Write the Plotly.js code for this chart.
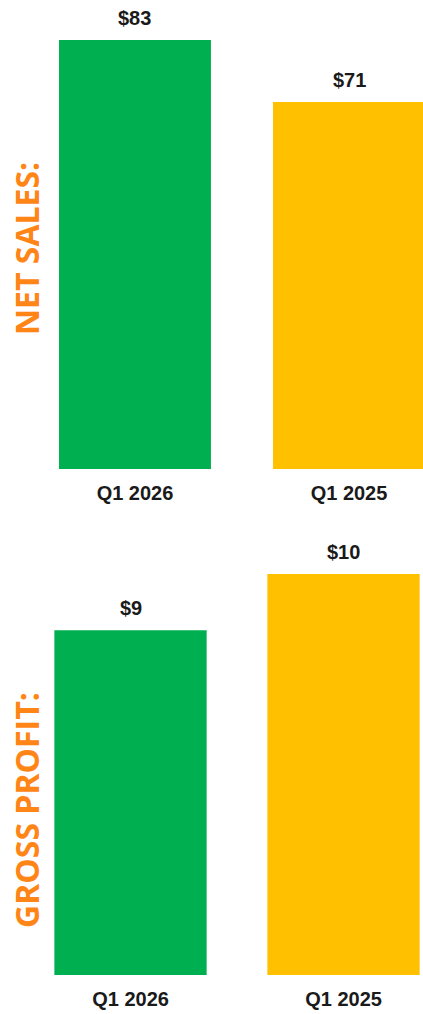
<!DOCTYPE html>
<html>
<head>
<meta charset="utf-8">
<script src="https://cdn.plot.ly/plotly-3.0.1.min.js"></script>
<style>html,body{margin:0;padding:0;background:#fff;}#chart{width:423px;height:1014px;}</style>
</head>
<body>
<div id="chart"></div>
<script>
// Data
const categories = ["Q1 2026", "Q1 2025"];
const netSales = [83, 71];
const grossProfit = [8.6, 10.0];
const barColors = ["#00B050", "#FFC000"];
const panelTitles = ["NET SALES:", "GROSS PROFIT:"];

const W = 423, H = 1014;
const labelFont = {family: "Liberation Sans Narrow, Arial Narrow, Liberation Sans, Arial, sans-serif", size: 20, color: "#1a1a1a"};
const titleFont = {family: "Open Sans, Noto Sans, sans-serif", size: 32, color: "#FF8517"};

const traces = [
  {type: "bar", x: categories, y: netSales, xaxis: "x", yaxis: "y",
   marker: {color: barColors}, width: 0.71, hoverinfo: "skip"},
  {type: "bar", x: categories, y: grossProfit, xaxis: "x2", yaxis: "y2",
   marker: {color: barColors}, width: 0.715, hoverinfo: "skip"}
];

function valueAnnotations(vals, xref, yref) {
  return vals.map((v, i) => ({
    x: categories[i], y: v, xref: xref, yref: yref,
    text: "<b>$" + Math.round(v) + "</b>", showarrow: false,
    yanchor: "middle", yshift: 22, font: labelFont
  }));
}

const xBase = {type: "category", showgrid: false, zeroline: false, showline: false,
  ticks: "", tickfont: labelFont, fixedrange: true, ticklabelstandoff: 10};
const yBase = {showgrid: false, zeroline: false, showline: false, showticklabels: false, fixedrange: true};

const layout = {
  width: W, height: H,
  margin: {l: 0, r: 0, t: 0, b: 0, pad: 0},
  paper_bgcolor: "#fff", plot_bgcolor: "#fff",
  showlegend: false,
  xaxis: Object.assign({}, xBase, {domain: [0, 1], range: [-0.6308, 1.3458], anchor: "y",
    tickvals: categories, ticktext: categories.map(c => "<b>" + c + "</b>")}),
  yaxis: Object.assign({}, yBase, {domain: [(H - 469) / H, 1], range: [0, 90.74], anchor: "x"}),
  xaxis2: Object.assign({}, xBase, {domain: [0, 1], range: [-0.6127, 1.3732], anchor: "y2",
    tickvals: categories, ticktext: categories.map(c => "<b>" + c + "</b>")}),
  yaxis2: Object.assign({}, yBase, {domain: [(H - 975) / H, (H - 530) / H], range: [0, 11.10], anchor: "x2"}),
  annotations: [
    ...valueAnnotations(netSales, "x", "y"),
    ...valueAnnotations(grossProfit, "x2", "y2"),
    {x: 26 / W, y: (H - 249) / H, xref: "paper", yref: "paper", text: "<b>" + panelTitles[0] + "</b>",
     textangle: -90, showarrow: false, font: titleFont, xanchor: "center", yanchor: "middle"},
    {x: 26 / W, y: (H - 810) / H, xref: "paper", yref: "paper", text: "<b>" + panelTitles[1] + "</b>",
     textangle: -90, showarrow: false, font: titleFont, xanchor: "center", yanchor: "middle"}
  ]
};

Plotly.newPlot("chart", traces, layout, {staticPlot: true, displayModeBar: false});
</script>
</body>
</html>
